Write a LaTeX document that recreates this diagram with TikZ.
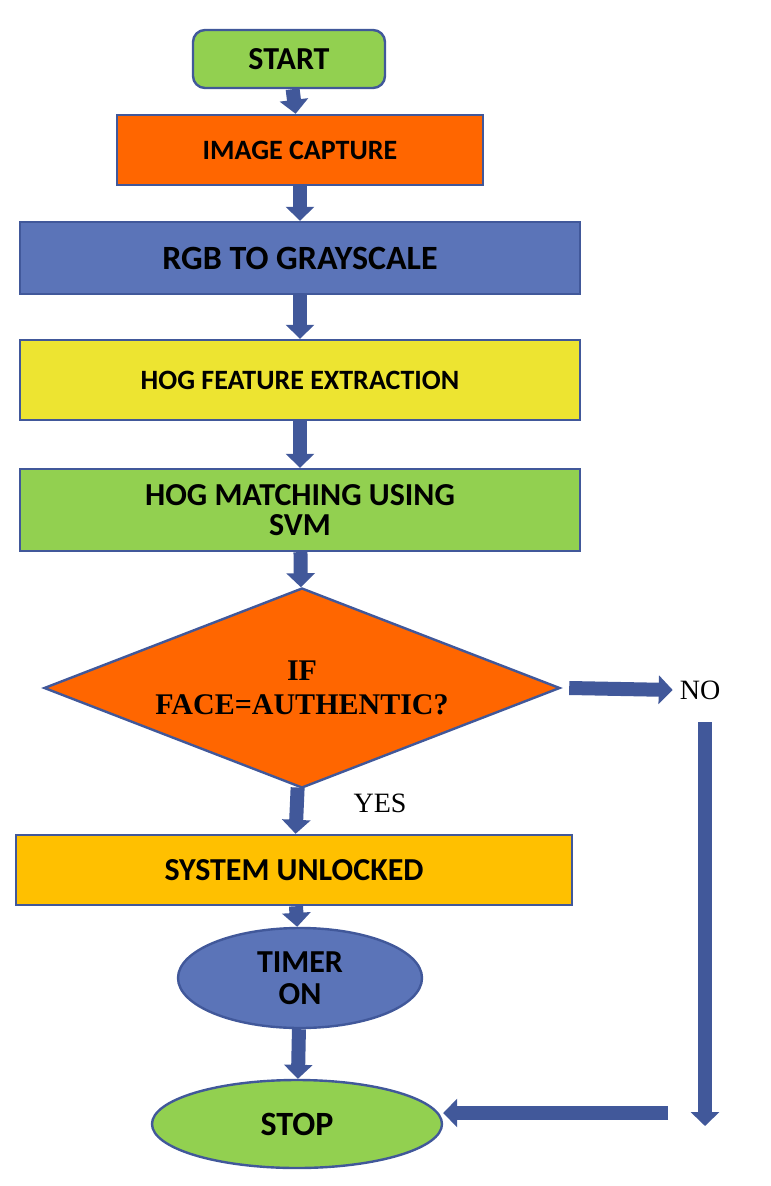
\documentclass[tikz,border=0pt]{standalone}
\usepackage{fontspec}
\setmainfont{Liberation Serif}
\newfontfamily\boxfont{Carlito}
\usetikzlibrary{shapes.geometric,arrows.meta}
\definecolor{startgreen}{HTML}{92D050}
\definecolor{caporange}{HTML}{FF6600}
\definecolor{rgbblue}{HTML}{5B74B8}
\definecolor{hogyellow}{HTML}{EDE431}
\definecolor{lockgold}{HTML}{FFC000}
\definecolor{edgeblue}{HTML}{41589A}
\tikzset{
	box/.style={draw=edgeblue,line width=1.2pt,inner sep=2pt,align=center,
		font=\boxfont\bfseries\fontsize{14}{15}\selectfont},
	flow/.style={draw=edgeblue,line width=7pt,-{Triangle[length=7pt,width=14pt]}},
	flowin/.style={draw=rgbblue,line width=4pt,shorten >=3pt},
	lab/.style={font=\fontsize{14}{15}\selectfont}
}
\begin{document}
\begin{tikzpicture}[x=0.5pt,y=-0.5pt]
	\useasboundingbox (0,0) rectangle (770,1186);
	\node[box,fill=startgreen,rounded corners=6pt,minimum width=96pt,minimum height=29pt,
		font=\boxfont\bfseries\fontsize{16}{17}\selectfont] (start) at (289,59) {START};
	\node[box,fill=caporange,minimum width=183pt,minimum height=35pt] (capture) at (300,150) {IMAGE CAPTURE};
	\node[box,fill=rgbblue,minimum width=280pt,minimum height=36pt,
		font=\boxfont\bfseries\fontsize{17}{18}\selectfont] (gray) at (300,258) {RGB TO GRAYSCALE};
	\node[box,fill=hogyellow,minimum width=280pt,minimum height=40pt] (feature) at (300,380) {HOG FEATURE EXTRACTION};
	\node[box,fill=startgreen,minimum width=280pt,minimum height=41pt,
		font=\boxfont\bfseries\fontsize{16}{15}\selectfont] (svm) at (300,510) {HOG MATCHING USING\\SVM};
	\node[draw=edgeblue,line width=1.2pt,fill=caporange,diamond,aspect=2.6,inner sep=0pt,
		minimum width=258pt,minimum height=100pt,align=center,
		font=\bfseries\fontsize{15}{17}\selectfont] (auth) at (302,688) {IF\\FACE=AUTHENTIC?};
	\node[box,fill=lockgold,minimum width=278pt,minimum height=35pt,
		font=\boxfont\bfseries\fontsize{16}{17}\selectfont] (unlock) at (294,870) {SYSTEM UNLOCKED};
	\node[box,fill=rgbblue,ellipse,minimum width=122pt,minimum height=50pt,inner sep=0pt,
		font=\boxfont\bfseries\fontsize{16}{16}\selectfont] (timer) at (300,978) {TIMER\\ON};
	\node[box,fill=startgreen,ellipse,minimum width=145pt,minimum height=44pt,
		font=\boxfont\bfseries\fontsize{17}{18}\selectfont] (stop) at (297,1124) {STOP};
	\node[lab] (no) at (700,690) {NO};
	\node[lab] (yes) at (380,803) {YES};
	\coordinate (down top) at (705,722);
	\coordinate (down end) at (705,1126);
	\coordinate (back) at (668,1113);
	% connectors
	\foreach \a/\b in {start/capture,capture/gray,gray/feature,feature/svm,svm/auth,auth/unlock,unlock/timer,timer/stop}
		\draw[flow] (\a) -- (\b);
	\draw[flow] (auth.east) ++(8,0) -- (no.west);
	\draw[flow] (down top) -- (down end);
	\draw[flow] (back) -- (stop.east |- back);
\end{tikzpicture}
\end{document}
